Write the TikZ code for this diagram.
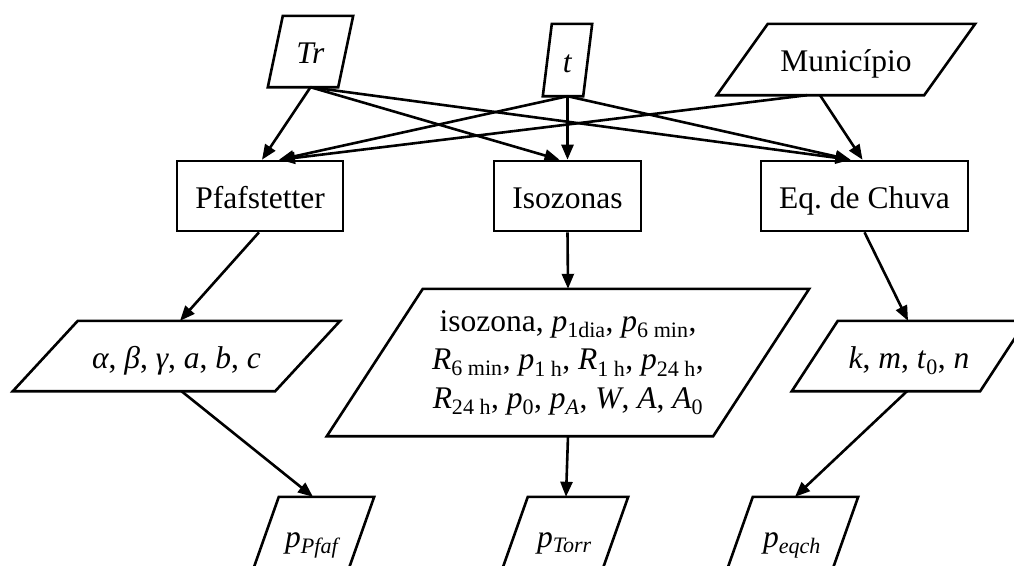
\documentclass[tikz,border=0pt]{standalone}
\usepackage{fontspec}
\setmainfont{Liberation Serif}
\usetikzlibrary{arrows.meta}
\frenchspacing

\newcommand{\vr}[2]{\textit{#1}\textsubscript{#2}}
\newcommand{\slantframe}[2]{\draw[line width=2.6pt] ([xshift=#2pt]#1.north west) -- (#1.north east) -- ([xshift=-#2pt]#1.south east) -- (#1.south west) -- cycle;}

\begin{document}
\begin{tikzpicture}[x=1pt,y=-1pt,
	font=\fontsize{31.5}{38.5}\selectfont,
	procbox/.style={draw,line width=2.6pt,inner sep=0pt,minimum height=70pt,text height=24pt,text depth=0pt},
	data/.style={inner sep=0pt,text height=24pt,text depth=0pt},
	link/.style={line width=2.6pt,-{Triangle[length=15pt,width=12pt]}},
	]
	\clip (0,0) rectangle (1014,565);
	% inputs
	\node[data,minimum width=85pt,minimum height=71pt] (tr) at (310.5,51.5) {\textit{Tr}};
	\node[data,minimum width=49pt,minimum height=72pt] (tt) at (567.5,60) {\textit{t}};
	\node[data,minimum width=258pt,minimum height=71pt] (mun) at (846,59.5) {Município};
	% methods
	\node[procbox,minimum width=166pt] (pf) at (260,196) {Pfafstetter};
	\node[procbox,minimum width=147pt] (iso) at (567.5,196) {Isozonas};
	\node[procbox,minimum width=207pt] (eq) at (864.5,196) {Eq. de Chuva};
	% parameters
	\node[data,minimum width=327pt,minimum height=70pt] (pfpar) at (176.5,356) {\textit{α}, \textit{β}, \textit{γ}, \textit{a}, \textit{b}, \textit{c}};
	\node[inner sep=0pt,minimum width=482pt,minimum height=147pt,align=center] (isopar) at (568,362.5)
	{isozona, \vr{p}{1dia}, \vr{p}{6 min},\\
	\vr{R}{6 min}, \vr{p}{1 h}, \vr{R}{1 h}, \vr{p}{24 h},\\
	\vr{R}{24 h}, \vr{p}{0}, \vr{p}{\textit{A}}, \textit{W}, \textit{A}, \vr{A}{0}};
	\node[data,minimum width=234pt,minimum height=70pt] (eqpar) at (909,356) {\textit{k}, \textit{m}, \vr{t}{0}, \textit{n}};
	% results
	\node[data,minimum width=122pt,minimum height=76pt] (ppfaf) at (313,535) {\vr{p}{\textit{Pfaf}}};
	\node[data,minimum width=127pt,minimum height=76pt] (ptorr) at (564.5,535) {\vr{p}{\textit{Torr}}};
	\node[data,minimum width=132pt,minimum height=76pt] (peqch) at (792,535) {\vr{p}{\textit{eqch}}};

	\slantframe{tr}{15}
	\slantframe{tt}{9}
	\slantframe{mun}{51}
	\slantframe{pfpar}{65}
	\slantframe{isopar}{96}
	\slantframe{eqpar}{46}
	\slantframe{ppfaf}{27}
	\slantframe{ptorr}{27}
	\slantframe{peqch}{27}

	\draw[link] (tr.south) -- ([xshift=2pt]pf.north);
	\draw[link] (tr.south) -- ([xshift=-8pt]iso.north);
	\draw[link] (tr.south) -- ([xshift=-14pt]eq.north);
	\draw[link] (tt.south) -- ([xshift=19pt]pf.north);
	\draw[link] (tt.south) -- (iso.north);
	\draw[link] (tt.south) -- ([xshift=-14pt]eq.north);
	\draw[link] ([xshift=-39pt]mun.south) -- ([xshift=20pt]pf.north);
	\draw[link] ([xshift=-26pt]mun.south) -- ([xshift=-2pt]eq.north);
	\draw[link] ([xshift=-1pt]pf.south) -- ([xshift=3.5pt]pfpar.north);
	\draw[link] (iso.south) -- (isopar.north);
	\draw[link] (eq.south) -- ([xshift=-1pt]eqpar.north);
	\draw[link] ([xshift=5pt]pfpar.south) -- ([xshift=0pt]ppfaf.north);
	\draw[link] (isopar.south) -- ([xshift=1.5pt]ptorr.north);
	\draw[link] ([xshift=-2pt]eqpar.south) -- ([xshift=3pt]peqch.north);
\end{tikzpicture}
\end{document}
